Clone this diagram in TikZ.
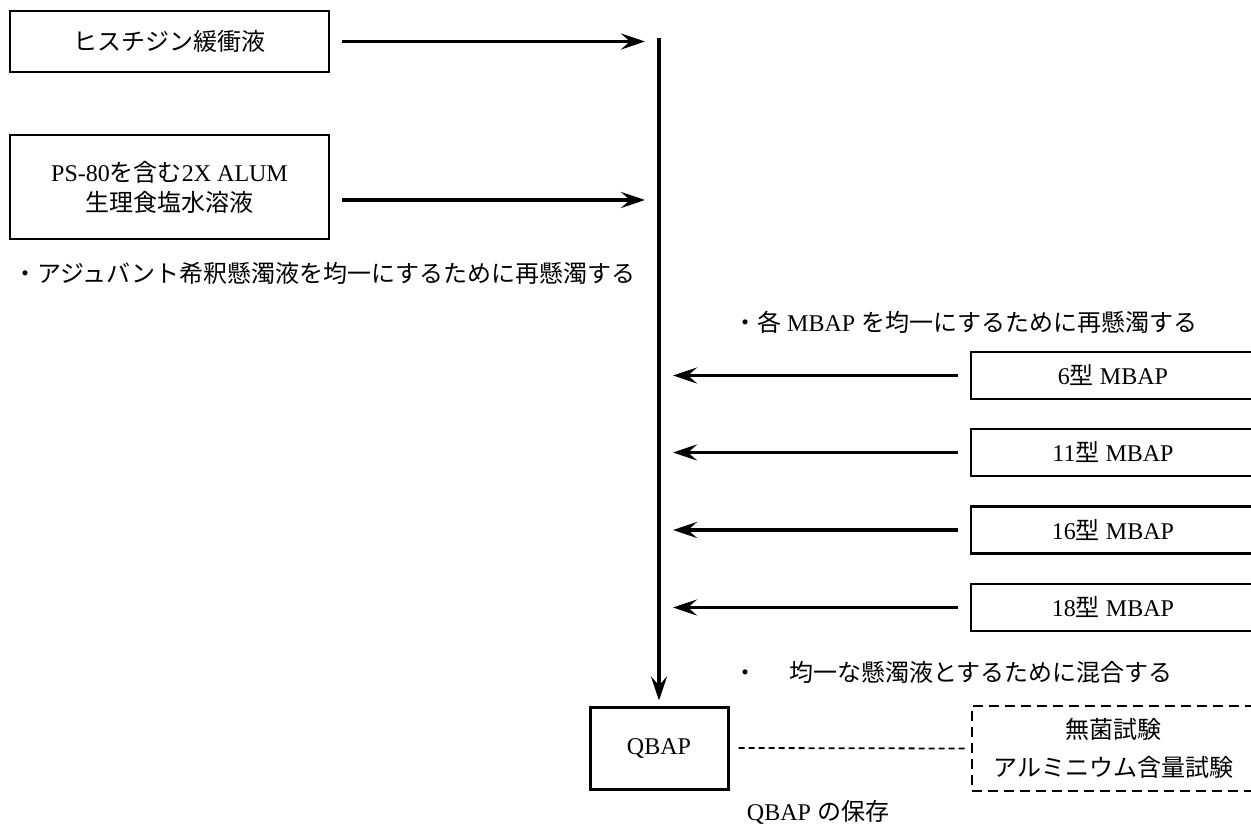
\documentclass[tikz,border=0pt]{standalone}
\usepackage{fontspec}
\setmainfont{Liberation Serif}
\newfontfamily\jp{Noto Sans CJK JP}
\usetikzlibrary{arrows.meta}
\begin{document}
\begin{tikzpicture}[x=1pt,y=-1pt,
  every node/.style={font=\fontsize{24}{30}\selectfont, inner sep=0pt},
  box/.style={draw, line width=2.5pt, minimum width=319pt, align=center},
  mbox/.style={draw, line width=2.5pt, minimum width=284pt, minimum height=47pt},
  arr/.style={line width=3.5pt, -{Stealth[length=24pt,width=16pt,inset=9pt]}},
  label/.style={anchor=west}
]
\useasboundingbox (0,0) rectangle (1251,826);
\clip (0,0) rectangle (1251,826);
% source boxes
\node[box, minimum height=61pt] (b1) at (169.5,41.5) {\jp ヒスチジン緩衝液};
\node[box, minimum height=104pt] (b2) at (169.5,187) {PS-80{\jp を含む}2X ALUM\\{\jp 生理食塩水溶液}};
% main line
\coordinate (top) at (659,38);
\coordinate (j1) at (645,41.5);
\coordinate (j2) at (645,200);
\path (b2.east |- j2) coordinate (s2);
\draw[arr] ([xshift=12pt]b1.east) -- (j1);
\draw[arr] ([xshift=12pt]s2) -- (j2);
% MBAP boxes
\node[mbox] (m6)  at (1113,375.5) {6{\jp 型} MBAP};
\node[mbox] (m11) at (1113,452.5) {11{\jp 型} MBAP};
\node[mbox] (m16) at (1113,530) {16{\jp 型} MBAP};
\node[mbox] (m18) at (1113,607.5) {18{\jp 型} MBAP};
\coordinate (k6)  at (673,375.5);
\coordinate (k11) at (673,452.5);
\coordinate (k16) at (673,530);
\coordinate (k18) at (673,607.5);
\draw[arr] ([xshift=-12pt]m6.west) -- (k6);
\draw[arr] ([xshift=-12pt]m11.west) -- (k11);
\draw[arr] ([xshift=-12pt]m16.west) -- (k16);
\draw[arr] ([xshift=-12pt]m18.west) -- (k18);
% QBAP
\node[draw, line width=3pt, minimum width=138pt, minimum height=82pt] (q) at (659,748) {QBAP};
\draw[arr] (top) -- ([yshift=5pt]q.north);
% tests
\node[draw, line width=2.5pt, dash pattern=on 10pt off 6pt, minimum width=283pt, minimum height=85pt, align=center, font={\jp\fontsize{24}{38}\selectfont}] (t) at (1113.5,748.5) {無菌試験\\アルミニウム含量試験};
\draw[line width=1.8pt, dash pattern=on 6pt off 4pt] ([xshift=9pt]q.east) -- ([xshift=-6pt]t.west);
% labels
\node[label, font={\jp\fontsize{24}{30}\selectfont}] (l1) at (13,273) {・アジュバント希釈懸濁液を均一にするために再懸濁する};
\node[label] (l2) at (733,322) {{\jp ・各} MBAP {\jp を均一にするために再懸濁する}};
\node[label] (l3) at (733,672) {{\jp ・}\hspace{32pt}{\jp 均一な懸濁液とするために混合する}};
\node (l4) at (818,812) {QBAP {\jp の保存}};
\end{tikzpicture}
\end{document}
